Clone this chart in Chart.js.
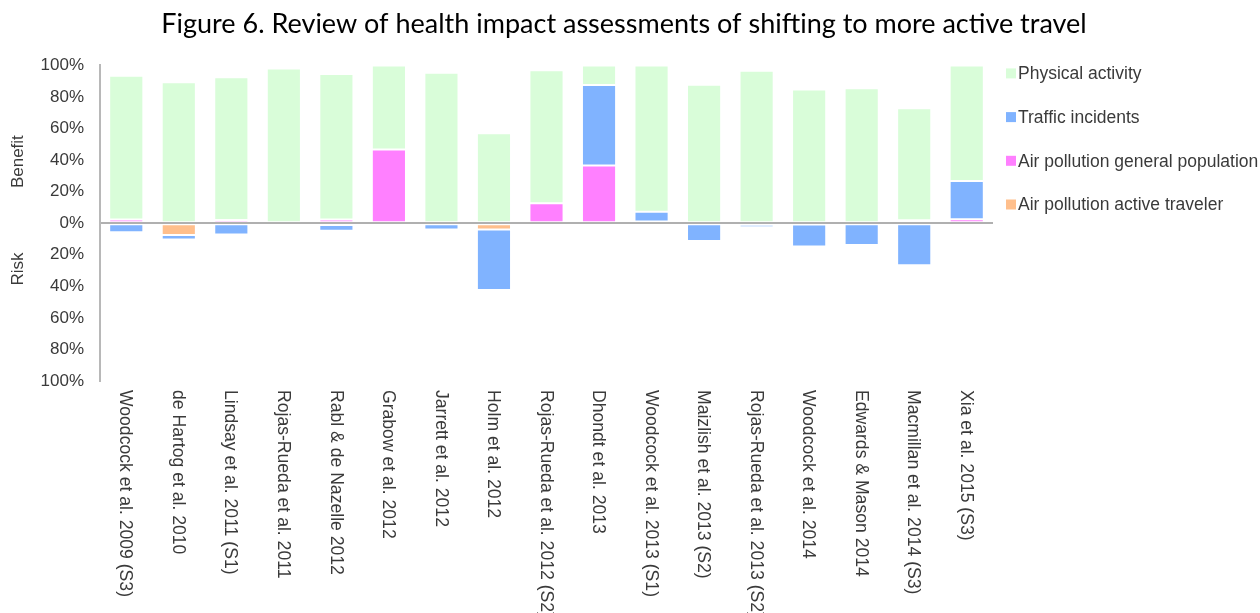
<!DOCTYPE html>
<html>
<head>
<meta charset="utf-8">
<script src="https://cdn.jsdelivr.net/npm/chart.js@4/dist/chart.umd.min.js"></script>
<style>
  html, body { margin: 0; padding: 0; background: #fff; }
  #wrap { width: 1260px; height: 613px; position: relative; }
</style>
</head>
<body>
<div id="wrap"><canvas id="hiaChart"></canvas></div>
<script>
// Studies reviewed (x categories)
const studies = [
    'Woodcock et al. 2009 (S3)',
    'de Hartog et al. 2010',
    'Lindsay et al. 2011 (S1)',
    'Rojas-Rueda et al. 2011',
    'Rabl & de Nazelle 2012',
    'Grabow et al. 2012',
    'Jarrett et al. 2012',
    'Holm et al. 2012',
    'Rojas-Rueda et al. 2012 (S2)',
    'Dhondt et al. 2013',
    'Woodcock et al. 2013 (S1)',
    'Maizlish et al. 2013 (S2)',
    'Rojas-Rueda et al. 2013 (S2)',
    'Woodcock et al. 2014',
    'Edwards & Mason 2014',
    'Macmillan et al. 2014 (S3)',
    'Xia et al. 2015 (S3)'
];

// Share of total health impact, in % (positive = benefit, negative = risk)
const airGeneral = [2.3, 0, 2, 0, 2.3, 46.7, 0, 0, 12.6, 36.5, 1, 0, 0, 0, 0, 1.9, 2.5];
const airActive = [0, -7.5, 0, -1, -1.2, 0, 0, -4, -1, 0, 0, 0, -1, -0.8, 0, 0, 0];
const traffic = [-5.8, -2.8, -7.1, 0, -3.6, 0, -4, -38.3, -1.1, 51.1, 6.3, -11.3, -1.5, -13.9, -13.8, -26.6, 24.3];
const physical = [91.2, 89.3, 90.5, 98.1, 92.2, 53.3, 95.4, 57, 84.4, 12.4, 92.7, 87.8, 96.6, 84.7, 85.5, 70.9, 73.2];

// y axis ticks
const yTicks = [-100, -80, -60, -40, -20, 0, 20, 40, 60, 80, 100];

// legend order as in the figure
const legendOrder = ['Physical activity', 'Traffic incidents', 'Air pollution general population', 'Air pollution active traveler'];

const tickFont = { family: 'Liberation Sans', size: 17 };
const textGray = '#3a3a3a';

// draws rotated category labels, the Benefit / Risk side labels and the legend
const sideLabels = {
    id: 'sideLabels',
    afterDraw(chart) {
        const ctx = chart.ctx;
        const xs = chart.scales.x;
        const ys = chart.scales.y;
        const area = chart.chartArea;
        ctx.save();
        ctx.fillStyle = textGray;
        ctx.font = '17.6px "Liberation Sans"';
        ctx.textAlign = 'left';
        ctx.textBaseline = 'middle';
        studies.forEach((name, i) => {
            const x = xs.getPixelForValue(i);
            ctx.save();
            ctx.translate(x - 1, area.bottom + 9);
            ctx.rotate(Math.PI / 2);
            ctx.fillText(name, 0, 0);
            ctx.restore();
        });

        ctx.font = '17px "Liberation Sans"';
        ctx.textAlign = 'center';
        [['Benefit', 39], ['Risk', -29]].forEach(([txt, v]) => {
            ctx.save();
            ctx.translate(18, ys.getPixelForValue(v));
            ctx.rotate(-Math.PI / 2);
            ctx.fillText(txt, 0, 0);
            ctx.restore();
        });

        // legend
        ctx.font = '17.5px "Liberation Sans"';
        ctx.textAlign = 'left';
        legendOrder.forEach((name, k) => {
            const ds = chart.data.datasets.find(d => d.label === name);
            const cy = area.top + 8 + k * 43.7;
            const bx = area.right + 13;
            ctx.fillStyle = ds.backgroundColor;
            ctx.fillRect(bx, cy - 5, 10, 10);
            ctx.fillStyle = textGray;
            ctx.fillText(name, bx + 12, cy + 1);
        });
        ctx.restore();
    }
};

function makeDataset(label, data, color) {
    return {
        label: label,
        data: data,
        backgroundColor: color,
        borderColor: 'rgba(255,255,255,0.4)',
        borderWidth: 1,
        borderSkipped: false,
        barPercentage: 0.65,
        categoryPercentage: 1
    };
}

const ctx = document.getElementById('hiaChart').getContext('2d');
new Chart(ctx, {
    type: 'bar',
    data: {
        labels: studies,
        datasets: [
            makeDataset('Air pollution general population', airGeneral, '#ff80ff'),
            makeDataset('Air pollution active traveler', airActive, '#ffbf8c'),
            makeDataset('Traffic incidents', traffic, '#80b3ff'),
            makeDataset('Physical activity', physical, '#d9fdd9')
        ]
    },
    options: {
        responsive: true,
        maintainAspectRatio: false,
        animation: false,
        layout: { padding: { left: 0, right: 12, top: 0, bottom: 224 } },
        scales: {
            x: {
                stacked: true,
                grid: { display: false },
                border: { display: false },
                ticks: { display: false }
            },
            y: {
                stacked: true,
                min: -100,
                max: 100,
                afterFit: (scale) => { scale.width = 100; },
                afterBuildTicks: (scale) => {
                    scale.ticks = yTicks.map(v => ({ value: v }));
                },
                ticks: {
                    color: textGray,
                    font: tickFont,
                    padding: 16,
                    callback: (v) => Math.abs(v) + '%'
                },
                grid: {
                    drawTicks: false,
                    lineWidth: 2,
                    color: (c) => (c.tick && c.tick.value === 0 ? '#b0b0b0' : 'rgba(0,0,0,0)')
                },
                border: { color: '#b8b8b8', width: 2 }
            },
            // empty axis that keeps room for the legend on the right
            yRight: {
                position: 'right',
                display: true,
                afterFit: (scale) => { scale.width = 255; },
                grid: { display: false },
                border: { display: false },
                ticks: { display: false }
            }
        },
        plugins: {
            title: {
                display: true,
                text: 'Figure 6. Review of health impact assessments of shifting to more active travel',
                color: '#000',
                font: { family: 'Lato', size: 27, weight: 'normal' },
                padding: { top: 8, bottom: 25 }
            },
            legend: { display: false },
            tooltip: { enabled: false }
        }
    },
    plugins: [sideLabels]
});
</script>
</body>
</html>
